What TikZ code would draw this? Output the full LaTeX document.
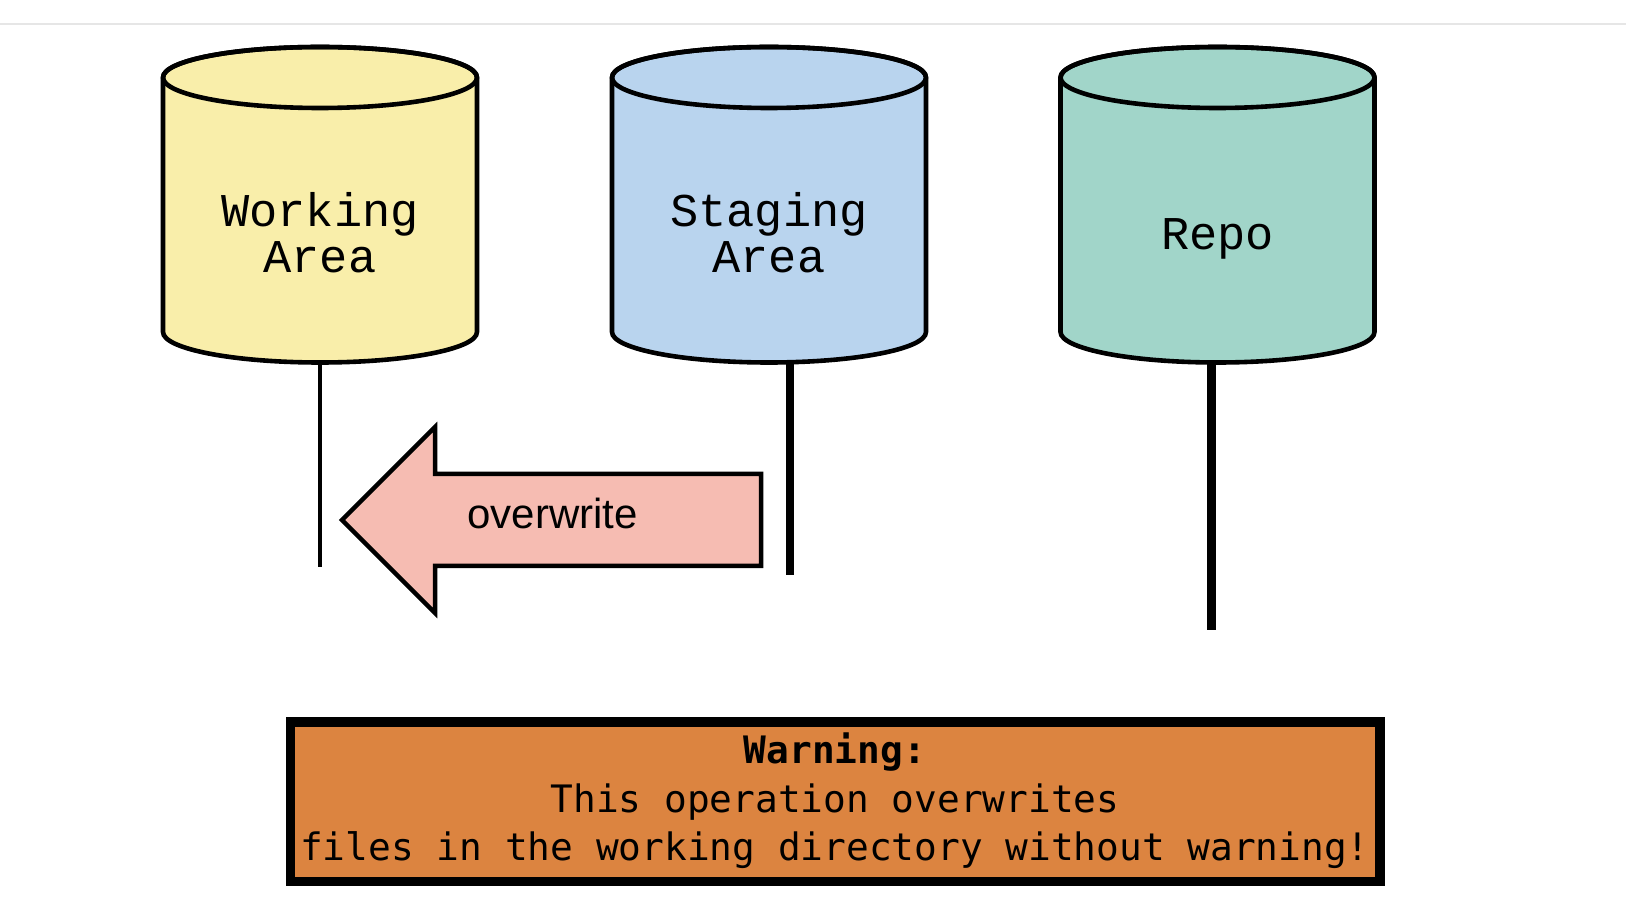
\documentclass[tikz,border=0pt]{standalone}
\usepackage{fontspec}
\newfontfamily\cylfont{Liberation Mono}
\newfontfamily\arrfont{Liberation Sans}
\newfontfamily\warnfont{DejaVu Sans Mono}
\definecolor{wayellow}{HTML}{F9EEAA}
\definecolor{sablue}{HTML}{B9D4EE}
\definecolor{repogreen}{HTML}{A1D5C9}
\definecolor{arrpink}{HTML}{F6BCB2}
\definecolor{warnorange}{HTML}{DC8440}
\definecolor{topgray}{HTML}{E6E6E6}
\begin{document}
\begin{tikzpicture}[x=1pt,y=1pt,
  cylline/.style={draw=black, line width=4.6pt, line join=round},
  cyltext/.style={font=\cylfont\fontsize{47}{47}\selectfont, inner sep=0pt, anchor=base},
  stem/.style={draw=black, line cap=butt},
  arrowshape/.style={draw=black, fill=arrpink, line width=4.5pt, line join=miter},
  arrtext/.style={font=\arrfont\fontsize{42}{42}\selectfont, inner sep=0pt, anchor=base},
  warnbox/.style={draw=black, fill=warnorange, line width=9.5pt, inner sep=0pt},
  warntext/.style={font=\warnfont\fontsize{37.8}{37.8}\selectfont, inner sep=0pt, anchor=base}
]
\useasboundingbox (0,0) rectangle (1626,906);
\fill[white] (0,0) rectangle (1626,906);
\draw[topgray, line width=1.5pt] (0,882) -- (1626,882);

% stems (drawn first, cylinders cover their tops)
\coordinate (wa-s) at (320,550);
\coordinate (wa-e) at (320,339);
\coordinate (sa-s) at (790,550);
\coordinate (sa-e) at (790,331);
\coordinate (repo-s) at (1211.5,550);
\coordinate (repo-e) at (1211.5,276);
\draw[stem, line width=3.5pt] (wa-s) -- (wa-e);
\draw[stem, line width=8pt] (sa-s) -- (sa-e);
\draw[stem, line width=9pt] (repo-s) -- (repo-e);

% cylinders
\begin{scope}[shift={(320,0)}]
  \filldraw[cylline, fill=wayellow] (-157,828.5) -- (-157,574)
    arc[start angle=180, end angle=360, x radius=157pt, y radius=30.5pt]
    -- (157,828.5)
    arc[start angle=0, end angle=180, x radius=157pt, y radius=30.5pt] -- cycle;
  \draw[cylline] (0,828.5) ellipse [x radius=157pt, y radius=30.5pt];
\end{scope}
\begin{scope}[shift={(769,0)}]
  \filldraw[cylline, fill=sablue] (-157,828.5) -- (-157,574)
    arc[start angle=180, end angle=360, x radius=157pt, y radius=30.5pt]
    -- (157,828.5)
    arc[start angle=0, end angle=180, x radius=157pt, y radius=30.5pt] -- cycle;
  \draw[cylline] (0,828.5) ellipse [x radius=157pt, y radius=30.5pt];
\end{scope}
\begin{scope}[shift={(1217.5,0)}]
  \filldraw[cylline, fill=repogreen] (-157,828.5) -- (-157,574)
    arc[start angle=180, end angle=360, x radius=157pt, y radius=30.5pt]
    -- (157,828.5)
    arc[start angle=0, end angle=180, x radius=157pt, y radius=30.5pt] -- cycle;
  \draw[cylline] (0,828.5) ellipse [x radius=157pt, y radius=30.5pt];
\end{scope}

\node[cyltext] (wa) at (320,679.3) {Working};
\node[cyltext] (wa2) at (320,633) {Area};
\node[cyltext] (sa) at (769,679.3) {Staging};
\node[cyltext] (sa2) at (769,633) {Area};
\node[cyltext] (repo) at (1217.5,656) {Repo};

% overwrite arrow
\filldraw[arrowshape] (342,386) -- (435,479) -- (435,432) -- (761,432)
  -- (761,340) -- (435,340) -- (435,293) -- cycle;
\node[arrtext] (ow) at (552.5,377) {overwrite};

% warning box
\node[warnbox, minimum width=1089.5pt, minimum height=159.5pt] (warn) at (835.25,104.25) {};
\node[warntext] (w1) at (835,143) {\textbf{Warning:}};
\node[warntext] (w2) at (835,94) {This operation overwrites};
\node[warntext] (w3) at (835,46) {files in the working directory without warning!};
\end{tikzpicture}
\end{document}
